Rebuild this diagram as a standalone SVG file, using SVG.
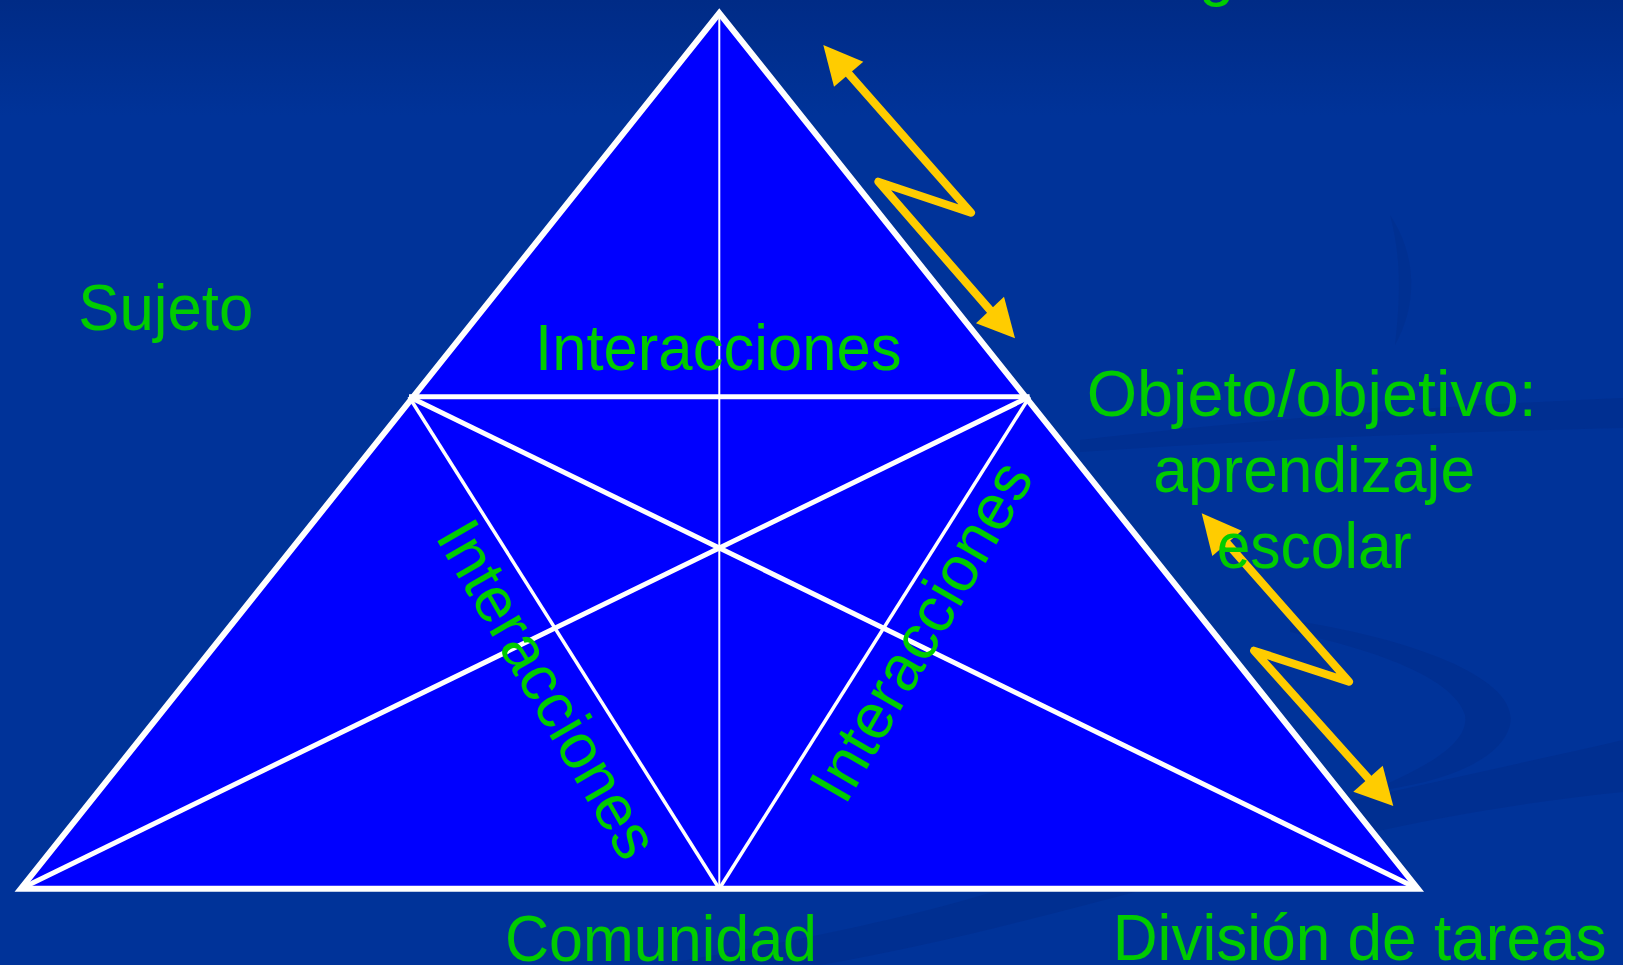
<svg xmlns="http://www.w3.org/2000/svg" width="1628" height="965" viewBox="0 0 1628 965">
<defs>
<linearGradient id="bg" x1="0" y1="0" x2="0" y2="1">
<stop offset="0" stop-color="#002b86"/>
<stop offset="0.12" stop-color="#003399"/>
<stop offset="1" stop-color="#003399"/>
</linearGradient>
<style>
.lbl{font-family:"Liberation Sans",Arial,sans-serif;font-size:64px;fill:#00CC00}
.swirl{fill:#002e8e}
.edge{fill:none;stroke:#FFFFFF;stroke-linejoin:miter;stroke-linecap:butt}
.shaft{fill:none;stroke:#FFCC00;stroke-width:8;stroke-linejoin:round;stroke-linecap:round}
.head{fill:#FFCC00}
</style>
</defs>
<rect x="0" y="0" width="1628" height="965" fill="url(#bg)"/>
<g id="background-swirl">
<path class="swirl" d="M1080,440 C1250,420 1450,405 1623,398 L1623,428 C1450,432 1250,440 1080,452 Z" opacity="0.8"/>
<path class="swirl" d="M1290,620 C1420,640 1520,680 1510,725 C1500,765 1430,785 1368,792 C1420,770 1470,745 1465,715 C1455,680 1380,650 1290,632 Z" opacity="0.8"/>
<path class="swirl" d="M1623,740 C1450,780 1200,830 1000,890 C900,920 800,940 660,965 L820,965 C1000,935 1200,870 1360,835 C1450,815 1540,800 1623,792 Z" opacity="0.8"/>
<path class="swirl" d="M1390,215 C1420,260 1415,310 1395,345 C1400,300 1402,260 1390,215 Z" opacity="0.6"/>
</g>
<rect x="1623" y="0" width="5" height="965" fill="#FFFFFF"/>
<g id="triangle">
<polygon points="719.3,13.1 1417.8,888.7 20.8,888.7" fill="#0000FF"/>
</g>
<g id="connectors">
<line class="edge" x1="719.3" y1="13.1" x2="719.3" y2="888.7" stroke-width="2"/>
<line class="edge" x1="409" y1="396.7" x2="719.3" y2="888.7" stroke-width="3.5"/>
<line class="edge" x1="1029.6" y1="396.7" x2="719.3" y2="888.7" stroke-width="3.5"/>
<line class="edge" x1="409" y1="396.7" x2="1417.8" y2="888.7" stroke-width="5"/>
<line class="edge" x1="1029.6" y1="396.7" x2="20.8" y2="888.7" stroke-width="5"/>
<line class="edge" x1="409" y1="396.7" x2="1029.6" y2="396.7" stroke-width="5"/>
<polygon class="edge" points="719.3,13.1 1417.8,888.7 20.8,888.7" stroke-width="6"/>
</g>
<g id="arrow-top">
<polyline class="shaft" points="848,73 971,212.7 878.3,181.7 990,310"/>
<polygon class="head" points="823.3,45 863.3,61.7 834,86.7"/>
<polygon class="head" points="1015,338.3 976,323.3 1004,296.7"/>
</g>
<g id="arrow-bottom">
<polyline class="shaft" points="1226,542 1349,681.7 1254,650.7 1368,778"/>
<polygon class="head" points="1201.7,513.3 1241.7,530.7 1212.3,556"/>
<polygon class="head" points="1393.3,806 1353.3,791.7 1382.7,765.7"/>
</g>
<g id="node-herramientas"><text class="lbl" x="1199" y="-6.5">g</text></g>
<g id="node-sujeto"><text class="lbl" x="78.3" y="330" textLength="175" lengthAdjust="spacingAndGlyphs">Sujeto</text></g>
<g id="node-interacciones-top"><text class="lbl" x="535" y="370" textLength="366.7" lengthAdjust="spacingAndGlyphs">Interacciones</text></g>
<g id="node-objeto">
<text class="lbl" x="1086.7" y="416" textLength="450" lengthAdjust="spacingAndGlyphs">Objeto/objetivo:</text>
<text class="lbl" x="1153.3" y="491.7" textLength="321.7" lengthAdjust="spacingAndGlyphs">aprendizaje</text>
<text class="lbl" x="1216.7" y="568.3" textLength="195" lengthAdjust="spacingAndGlyphs">escolar</text>
</g>
<g id="node-interacciones-left"><text class="lbl" transform="translate(529,700) rotate(60)" x="0" y="0" text-anchor="middle" textLength="378" lengthAdjust="spacingAndGlyphs">Interacciones</text></g>
<g id="node-interacciones-right"><text class="lbl" transform="translate(940,642) rotate(-60)" x="0" y="0" text-anchor="middle" textLength="380" lengthAdjust="spacingAndGlyphs">Interacciones</text></g>
<g id="node-comunidad"><text class="lbl" x="505" y="961" textLength="312" lengthAdjust="spacingAndGlyphs">Comunidad</text></g>
<g id="node-division"><text class="lbl" x="1112.7" y="960" textLength="494" lengthAdjust="spacingAndGlyphs">División de tareas</text></g>
</svg>
